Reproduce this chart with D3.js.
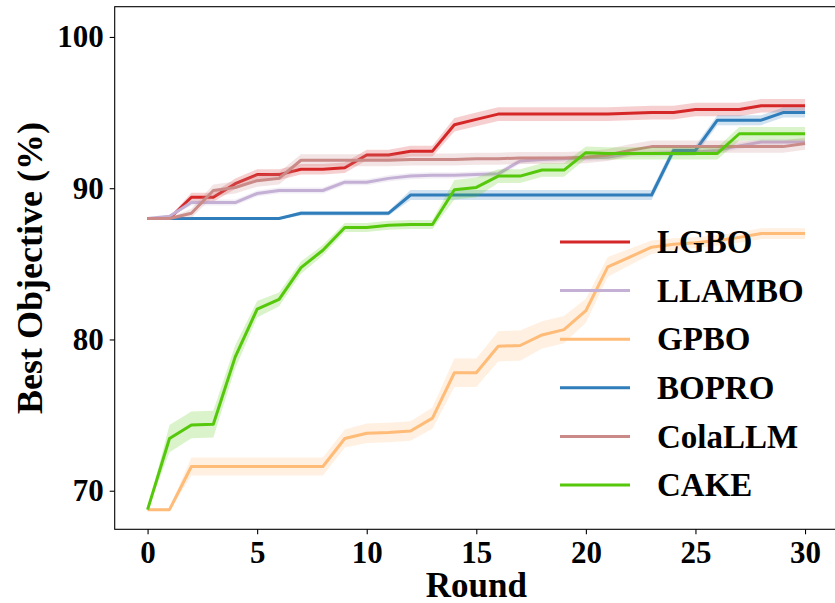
<!DOCTYPE html>
<html>
<head>
<meta charset="utf-8">
<script src="https://cdn.jsdelivr.net/npm/d3@7"></script>
<style>
  body { margin: 0; background: #fff; }
  svg text { font-family: "Liberation Serif", "Times New Roman", serif; font-weight: bold; }
</style>
</head>
<body>
<svg id="chart" width="835" height="603"></svg>
<script>
// ---- DATA ---- //
const rounds = d3.range(0, 31);
const methods = ["LGBO", "LLAMBO", "GPBO", "BOPRO", "ColaLLM", "CAKE"];
const colors = ["#d62728", "#c5b0d5", "#ffbb78", "#2f7dba", "#c98a88", "#55c80c"];

const lgbo = [88.0, 88.0, 89.4, 89.4, 90.3, 90.9, 90.9, 91.25, 91.25, 91.35, 92.2, 92.2, 92.45, 92.45, 94.2, 94.55,
  94.9, 94.9, 94.9, 94.9, 94.9, 94.9, 94.95, 95.0, 95.0, 95.2, 95.2, 95.2, 95.45, 95.45, 95.45];
const llambo = [88.0, 88.15, 89.05, 89.05, 89.05, 89.65, 89.85, 89.85, 89.85, 90.4, 90.4, 90.65, 90.8, 90.85, 90.85, 90.9,
  90.95, 91.8, 91.9, 91.95, 92.0, 92.05, 92.3, 92.3, 92.35, 92.4, 92.5, 92.8, 93.05, 93.05, 93.05];
const gpbo = [68.75, 68.75, 71.6, 71.6, 71.6, 71.6, 71.6, 71.6, 71.6, 73.45, 73.8, 73.85, 73.95, 74.8, 77.8, 77.8,
  79.55, 79.6, 80.3, 80.65, 81.9, 84.8, 85.45, 86.1, 86.3, 86.4, 86.55, 86.75, 87.0, 87.0, 87.0];
const bopro = [88.0, 88.0, 88.0, 88.0, 88.0, 88.0, 88.0, 88.35, 88.35, 88.35, 88.35, 88.35, 89.55, 89.55, 89.55, 89.55,
  89.55, 89.55, 89.55, 89.55, 89.55, 89.55, 89.55, 89.55, 92.5, 92.5, 94.5, 94.5, 94.5, 95.0, 95.0];
const colallm = [88.0, 88.0, 88.35, 89.85, 90.05, 90.5, 90.65, 91.85, 91.85, 91.85, 91.85, 91.85, 91.9, 91.9, 91.9, 91.95,
  91.95, 92.0, 92.0, 92.0, 92.05, 92.2, 92.5, 92.75, 92.75, 92.75, 92.75, 92.75, 92.75, 92.75, 92.95];
const cake = [68.75, 73.45, 74.35, 74.4, 78.85, 82.0, 82.65, 84.75, 85.9, 87.4, 87.4, 87.55, 87.6, 87.6, 89.9, 90.05,
  90.8, 90.8, 91.2, 91.2, 92.35, 92.3, 92.3, 92.3, 92.3, 92.3, 92.3, 93.6, 93.6, 93.6, 93.6];

// half-width of the shaded band, per round
const lgboStd = [0, 0.1, 0.3, 0.3, 0.35, 0.35, 0.35, 0.35, 0.35, 0.35, 0.35, 0.35, 0.35, 0.35, 0.45, 0.45,
  0.45, 0.45, 0.45, 0.45, 0.45, 0.45, 0.45, 0.45, 0.45, 0.45, 0.45, 0.45, 0.45, 0.45, 0.45];
const llamboStd = [0, 0.1, 0.2, 0.2, 0.2, 0.2, 0.2, 0.2, 0.2, 0.2, 0.2, 0.2, 0.2, 0.2, 0.2, 0.2,
  0.2, 0.2, 0.2, 0.2, 0.2, 0.2, 0.2, 0.2, 0.2, 0.2, 0.2, 0.2, 0.2, 0.2, 0.2];
const gpboStd = [0, 0.1, 0.6, 0.6, 0.6, 0.6, 0.6, 0.6, 0.6, 0.6, 0.65, 0.65, 0.65, 0.7, 0.95, 0.95,
  1.0, 1.0, 0.9, 0.9, 0.8, 0.65, 0.55, 0.45, 0.4, 0.35, 0.35, 0.35, 0.35, 0.35, 0.35];
const boproStd = [0, 0.05, 0.05, 0.05, 0.05, 0.05, 0.05, 0.15, 0.15, 0.15, 0.15, 0.15, 0.33, 0.33, 0.33, 0.33,
  0.33, 0.33, 0.33, 0.33, 0.33, 0.33, 0.33, 0.33, 0.33, 0.33, 0.33, 0.33, 0.33, 0.33, 0.33];
const colallmStd = [0, 0.05, 0.3, 0.4, 0.4, 0.4, 0.4, 0.4, 0.4, 0.4, 0.4, 0.4, 0.4, 0.4, 0.4, 0.4,
  0.4, 0.4, 0.4, 0.4, 0.4, 0.4, 0.4, 0.4, 0.4, 0.4, 0.4, 0.4, 0.4, 0.4, 0.4];
const cakeStd = [0, 0.9, 0.88, 0.88, 0.77, 0.55, 0.45, 0.4, 0.35, 0.3, 0.3, 0.3, 0.3, 0.3, 0.65, 0.65,
  0.45, 0.45, 0.45, 0.45, 0.4, 0.4, 0.4, 0.4, 0.4, 0.4, 0.4, 0.45, 0.45, 0.45, 0.45];

const xTicks = [0, 5, 10, 15, 20, 25, 30];
const yTicks = [70, 80, 90, 100];

const series = [
  {name: methods[0], mean: lgbo, std: lgboStd, color: colors[0]},
  {name: methods[1], mean: llambo, std: llamboStd, color: colors[1]},
  {name: methods[2], mean: gpbo, std: gpboStd, color: colors[2]},
  {name: methods[3], mean: bopro, std: boproStd, color: colors[3]},
  {name: methods[4], mean: colallm, std: colallmStd, color: colors[4]},
  {name: methods[5], mean: cake, std: cakeStd, color: colors[5]}
];

// ---- THE CHART ---- //
const plot = {left: 114.7, right: 837.9, top: 6.7, bottom: 529.3};

const svg = d3.select("#chart");

const xScale = d3.scaleLinear()
  .domain([-1.5, 31.5])
  .range([plot.left, plot.right]);
const yScale = d3.scaleLinear()
  .domain([67.45, 102.0])
  .range([plot.bottom, plot.top]);

// bands first, then lines, series by series
const area = d3.area()
  .x(d => xScale(d.r))
  .y0(d => yScale(d.m - d.s))
  .y1(d => yScale(d.m + d.s));
const line = d3.line()
  .x(d => xScale(d.r))
  .y(d => yScale(d.m));

series.forEach(s => {
  const pts = rounds.map((r, i) => ({r: r, m: s.mean[i], s: s.std[i]}));
  svg.append("path")
    .attr("d", area(pts))
    .attr("fill", s.color)
    .attr("fill-opacity", 0.22);
  svg.append("path")
    .attr("d", line(pts))
    .attr("fill", "none")
    .attr("stroke", s.color)
    .attr("stroke-width", 3)
    .attr("stroke-linejoin", "round");
});

// axes
const xAxis = d3.axisBottom(xScale).tickValues(xTicks).tickSize(5).tickPadding(7).tickSizeOuter(0);
const gx = svg.append("g")
  .attr("transform", "translate(0," + plot.bottom + ")")
  .call(xAxis);
const yAxis = d3.axisLeft(yScale).tickValues(yTicks).tickSize(5).tickPadding(6).tickSizeOuter(0);
const gy = svg.append("g")
  .attr("transform", "translate(" + plot.left + ",0)")
  .call(yAxis);

[gx, gy].forEach(g => {
  g.select(".domain").remove();
  g.selectAll("line").attr("stroke", "#000").attr("stroke-width", 1.1);
  g.selectAll("text").attr("font-size", 31).attr("fill", "#000")
    .style("font-family", "'Liberation Serif', 'Times New Roman', serif").style("font-weight", "bold");
});

// frame
svg.append("rect")
  .attr("x", plot.left)
  .attr("y", plot.top)
  .attr("width", plot.right - plot.left)
  .attr("height", plot.bottom - plot.top)
  .attr("fill", "none")
  .attr("stroke", "#000")
  .attr("stroke-width", 1.1);

// axis labels
svg.append("text")
  .attr("x", (xScale(0) + xScale(30)) / 2)
  .attr("y", 597)
  .attr("text-anchor", "middle")
  .attr("font-size", 35)
  .text("Round");

svg.append("text")
  .attr("transform", "translate(42," + ((plot.top + plot.bottom) / 2) + ") rotate(-90)")
  .attr("text-anchor", "middle")
  .attr("font-size", 36)
  .text("Best Objective (%)");

// legend
const legend = svg.append("g").attr("transform", "translate(560,242)");
series.forEach((s, i) => {
  const row = legend.append("g").attr("transform", "translate(0," + (i * 48.6) + ")");
  row.append("line")
    .attr("x1", 0).attr("x2", 70)
    .attr("stroke", s.color)
    .attr("stroke-width", 3);
  row.append("text")
    .attr("x", 97)
    .attr("dy", "0.34em")
    .attr("font-size", 33)
    .text(s.name);
});
</script>
</body>
</html>
